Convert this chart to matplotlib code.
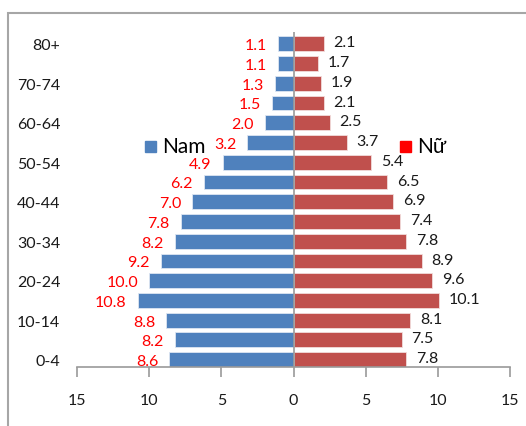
import matplotlib
matplotlib.use("Agg")
import matplotlib.pyplot as plt
import numpy as np
from matplotlib.patches import Rectangle
from matplotlib.ticker import FuncFormatter

# Age groups, bottom to top
AGES = ["0-4", "5-9", "10-14", "15-19", "20-24", "25-29", "30-34", "35-39",
        "40-44", "45-49", "50-54", "55-59", "60-64", "65-69", "70-74", "75-79", "80+"]
NAM = [8.6, 8.2, 8.8, 10.8, 10.0, 9.2, 8.2, 7.8, 7.0, 6.2, 4.9, 3.2, 2.0, 1.5, 1.3, 1.1, 1.1]
NU = [7.8, 7.5, 8.1, 10.1, 9.6, 8.9, 7.8, 7.4, 6.9, 6.5, 5.4, 3.7, 2.5, 2.1, 1.9, 1.7, 2.1]
XTICKS = [-15, -10, -5, 0, 5, 10, 15]

C_NAM = "#4f81bd"; C_NU = "#c0504d"; AXIS = "#9a9a9a"; LEG_NU = "#ff0000"
plt.rcParams["font.family"] = ["Lato", "DejaVu Sans"]

fig = plt.figure(figsize=(5.26, 4.27), dpi=100)
fig.patches.append(Rectangle((8 / 526, -0.1), 1.2, 1.1 - 14 / 427, transform=fig.transFigure,
                             fill=False, edgecolor="#a6a6a6", lw=1.5))
ax = fig.add_axes([77 / 526, 1 - 368 / 427, 433 / 526, 335 / 427])

y = np.arange(len(AGES))
nam = np.array(NAM); nu = np.array(NU)
h = 0.75
ax.barh(y, -nam, height=h, color=C_NAM, edgecolor="#dde6f2", lw=0.6, zorder=2)
ax.barh(y, nu, height=h, color=C_NU, edgecolor="#f2dcdb", lw=0.6, zorder=2)
ax.axvline(0, color=AXIS, lw=1.2, zorder=3)

for yi, v in zip(y, nam):
    ax.annotate(f"{v:.1f}", (-v, yi), xytext=(-8, -1), textcoords="offset points",
                ha="right", va="center", color="#ff0000", fontsize=11.5)
for yi, v in zip(y, nu):
    ax.annotate(f"{v:.1f}", (v, yi), xytext=(7, 1), textcoords="offset points",
                ha="left", va="center", color="#1a1a1a", fontsize=11.5)

ax.set_xlim(-15, 15)
ax.set_ylim(-h / 2, 16.6)
ax.set_xticks(XTICKS)
ax.xaxis.set_major_formatter(FuncFormatter(lambda v, _: f"{abs(v):g}"))
ax.tick_params(axis="x", direction="out", length=7, width=1.2, color=AXIS,
               pad=12, labelsize=11.5, labelcolor="#1a1a1a")
ax.set_yticks(y[::2])
ax.set_yticklabels(AGES[::2])
ax.tick_params(axis="y", length=0, pad=12, labelsize=11.5, labelcolor="#1a1a1a")
for s in ("top", "right", "left"):
    ax.spines[s].set_visible(False)
ax.spines["bottom"].set_color(AXIS)
ax.spines["bottom"].set_linewidth(1.2)

# legend, placed in the middle of the chart
fig.patches.append(Rectangle((145 / 526, 1 - 153 / 427), 11 / 526, 11 / 427,
                             transform=fig.transFigure, color=C_NAM))
fig.text(162 / 526, 1 - 147 / 427, "Nam", fontsize=15, va="center", ha="left", color="#000000")
fig.patches.append(Rectangle((400 / 526, 1 - 153 / 427), 11 / 526, 11 / 427,
                             transform=fig.transFigure, color=LEG_NU))
fig.text(417 / 526, 1 - 147 / 427, "Nữ", fontsize=15, va="center", ha="left", color="#000000")

fig.savefig("out.png", dpi=100, facecolor="white")
